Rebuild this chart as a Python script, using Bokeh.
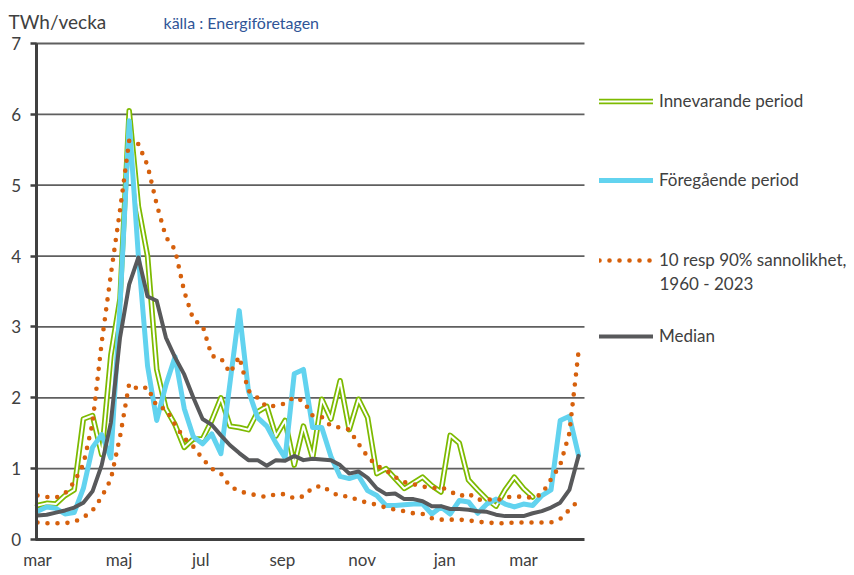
from bokeh.plotting import figure
from bokeh.models import Range1d, Legend, LegendItem, Label, FixedTicker
from bokeh.embed import file_html
from bokeh.resources import INLINE

# week index from start of March
weeks = list(range(60))

# Innevarande period (current) - ends earlier
current = [0.48, 0.51, 0.50, 0.62, 0.70, 1.70, 1.75, 1.20, 2.60, 3.40,
           6.05, 4.70, 4.00, 2.40, 1.85, 1.62, 1.30, 1.42, 1.42, 1.68,
           2.00, 1.60, 1.58, 1.55, 1.80, 1.88, 1.46, 1.68, 1.05, 1.60,
           1.15, 1.98, 1.70, 2.24, 1.55, 1.98, 1.72, 0.93, 1.00, 0.86,
           0.72, 0.80, 0.88, 0.76, 0.67, 1.47, 1.36, 0.84, 0.70, 0.57,
           0.47, 0.70, 0.88, 0.72, 0.60]

# Föregående period (previous)
previous = [0.40, 0.46, 0.44, 0.36, 0.38, 0.72, 1.30, 1.48, 1.15, 3.30,
            5.91, 4.00, 2.45, 1.68, 2.18, 2.58, 1.85, 1.45, 1.35, 1.49,
            1.21, 2.22, 3.23, 2.10, 1.72, 1.60, 1.36, 1.15, 2.34, 2.40,
            1.58, 1.58, 1.17, 0.89, 0.86, 0.90, 0.69, 0.62, 0.48, 0.48,
            0.49, 0.50, 0.50, 0.36, 0.46, 0.36, 0.55, 0.53, 0.37, 0.50,
            0.57, 0.50, 0.46, 0.50, 0.48, 0.62, 0.70, 1.68, 1.74, 1.19]

# 90 % sannolikhet (upper)
p90 = [0.62, 0.60, 0.59, 0.65, 0.81, 1.06, 1.64, 2.78, 3.74, 4.65,
       5.63, 5.58, 5.28, 4.73, 4.27, 4.09, 3.50, 3.10, 3.02, 2.59,
       2.56, 2.35, 2.58, 2.10, 2.00, 1.87, 1.89, 1.92, 2.01, 1.95,
       1.75, 1.73, 1.60, 1.58, 1.55, 1.35, 1.17, 1.04, 0.98, 0.88,
       0.81, 0.78, 0.75, 0.72, 0.74, 0.68, 0.61, 0.65, 0.56, 0.57,
       0.55, 0.59, 0.61, 0.60, 0.59, 0.64, 0.85, 1.05, 1.50, 2.65]

# 10 % sannolikhet (lower)
p10 = [0.24, 0.23, 0.23, 0.23, 0.25, 0.31, 0.41, 0.60, 0.85, 1.45,
       2.20, 2.12, 2.15, 1.88, 1.84, 1.62, 1.43, 1.31, 1.14, 1.00,
       0.93, 0.75, 0.68, 0.65, 0.62, 0.60, 0.64, 0.64, 0.58, 0.61,
       0.73, 0.76, 0.67, 0.61, 0.61, 0.55, 0.52, 0.49, 0.45, 0.42,
       0.40, 0.37, 0.36, 0.30, 0.28, 0.28, 0.28, 0.27, 0.25, 0.24,
       0.23, 0.23, 0.24, 0.24, 0.24, 0.24, 0.24, 0.29, 0.42, 0.55]

# Median
median = [0.34, 0.35, 0.38, 0.41, 0.45, 0.52, 0.68, 1.05, 1.65, 2.85,
          3.60, 3.98, 3.43, 3.37, 2.85, 2.57, 2.33, 2.00, 1.70, 1.62,
          1.47, 1.33, 1.22, 1.12, 1.12, 1.04, 1.12, 1.11, 1.18, 1.12,
          1.14, 1.13, 1.12, 1.05, 0.93, 0.96, 0.87, 0.72, 0.64, 0.65,
          0.57, 0.57, 0.54, 0.47, 0.47, 0.43, 0.43, 0.42, 0.40, 0.39,
          0.35, 0.33, 0.33, 0.33, 0.37, 0.40, 0.45, 0.52, 0.70, 1.18]

month_ticks = [0.0, 8.9, 17.8, 26.7, 35.4, 44.4, 53.0]
month_labels = ["mar", "maj", "jul", "sep", "nov", "jan", "mar"]
y_ticks = [0, 1, 2, 3, 4, 5, 6, 7]
grid_ticks = [1, 2, 3, 4, 5, 6, 7]

FONT = "Lato"
TXT = "#404040"

W, H = 854, 575
X0_PX, Y0_PX = 37.0, 539.0      # canvas position of (week 0, value 0)
PX_WEEK = 9.17                  # pixels per week
PX_UNIT = 496.0 / 7.0           # pixels per TWh/vecka
X_LEFT, X_RIGHT = -0.16, 59.65  # extent of the plotting area along x

x_range = Range1d(-X0_PX / PX_WEEK, (W - X0_PX) / PX_WEEK)
y_range = Range1d(-(H - Y0_PX) / PX_UNIT, Y0_PX / PX_UNIT)

p = figure(width=W, height=H, min_border=0,
           min_border_left=0, min_border_right=0,
           min_border_top=0, min_border_bottom=0,
           x_range=x_range, y_range=y_range,
           output_backend="svg", toolbar_location=None)
p.outline_line_color = None
p.background_fill_color = "white"
p.border_fill_color = "white"
p.xgrid.visible = False
p.ygrid.visible = False

# horizontal grid lines
p.segment(x0=[X_LEFT] * len(grid_ticks), x1=[X_RIGHT] * len(grid_ticks),
          y0=grid_ticks, y1=grid_ticks, line_color="#5f5f5f", line_width=1.8)

# axes drawn at fixed locations inside the canvas
xa = p.xaxis[0]
xa.fixed_location = 0
xa.bounds = (X_LEFT - 0.05, X_RIGHT)
xa.ticker = FixedTicker(ticks=month_ticks)
xa.major_label_overrides = {t: l for t, l in zip(month_ticks, month_labels)}
xa.major_tick_out = 0
xa.major_tick_in = 0
xa.minor_tick_line_color = None
xa.axis_line_width = 3
xa.axis_line_color = "#404040"
xa.major_label_standoff = 9
xa.major_label_text_font = FONT
xa.major_label_text_font_size = "17px"
xa.major_label_text_color = TXT

ya = p.yaxis[0]
ya.fixed_location = X_LEFT
ya.bounds = (0, 7)
ya.ticker = FixedTicker(ticks=y_ticks)
ya.major_tick_out = 6
ya.major_tick_in = 0
ya.major_tick_line_width = 2.5
ya.major_tick_line_color = "#404040"
ya.minor_tick_line_color = None
ya.axis_line_width = 3
ya.axis_line_color = "#404040"
ya.major_label_standoff = 9
ya.major_label_text_font = FONT
ya.major_label_text_font_size = "17px"
ya.major_label_text_color = TXT

n_cur = len(current)
g1 = p.line(weeks[:n_cur], current, line_color="#7DBA00", line_width=5.5,
            line_join="round", line_cap="round")
g2 = p.line(weeks[:n_cur], current, line_color="white", line_width=2,
            line_join="round", line_cap="round")
c1 = p.line(weeks, previous, line_color="#62D3EF", line_width=5,
            line_join="round", line_cap="round")
o1 = p.line(weeks, p90, line_color="#D6600C", line_width=4.6, line_dash="0 10", line_cap="round")
o2 = p.line(weeks, p10, line_color="#D6600C", line_width=4.6, line_dash="0 10", line_cap="round")
m1 = p.line(weeks, median, line_color="#58595B", line_width=4,
            line_join="round", line_cap="round")


def add_legend(label, renderers, center_y):
    lg = Legend(items=[LegendItem(label=label, renderers=renderers)],
                location=(599, H - center_y - 10), padding=0, margin=0, spacing=0,
                glyph_width=54, glyph_height=20, label_height=20,
                label_standoff=6, border_line_alpha=0,
                background_fill_alpha=0,
                label_text_font=FONT, label_text_font_size="17px",
                label_text_color=TXT)
    p.add_layout(lg, "center")


add_legend("Innevarande period", [g1, g2], 101)
add_legend("Föregående period", [c1], 180)
add_legend("10 resp 90% sannolikhet,", [o1], 260)
add_legend("Median", [m1], 336)

p.add_layout(Label(x=659, y=H - 283, x_units="screen", y_units="screen",
                   text="1960 - 2023", text_font=FONT, text_font_size="17px",
                   text_color=TXT, text_baseline="middle"))
p.add_layout(Label(x=8, y=H - 21, x_units="screen", y_units="screen",
                   text="TWh/vecka", text_font=FONT, text_font_size="19px",
                   text_color=TXT, text_baseline="alphabetic"))
p.add_layout(Label(x=163, y=H - 22, x_units="screen", y_units="screen",
                   text="källa : Energiföretagen", text_font=FONT,
                   text_font_size="16px", text_color="#2F5597",
                   text_baseline="alphabetic"))

open("out.html", "w").write(file_html(p, INLINE))
